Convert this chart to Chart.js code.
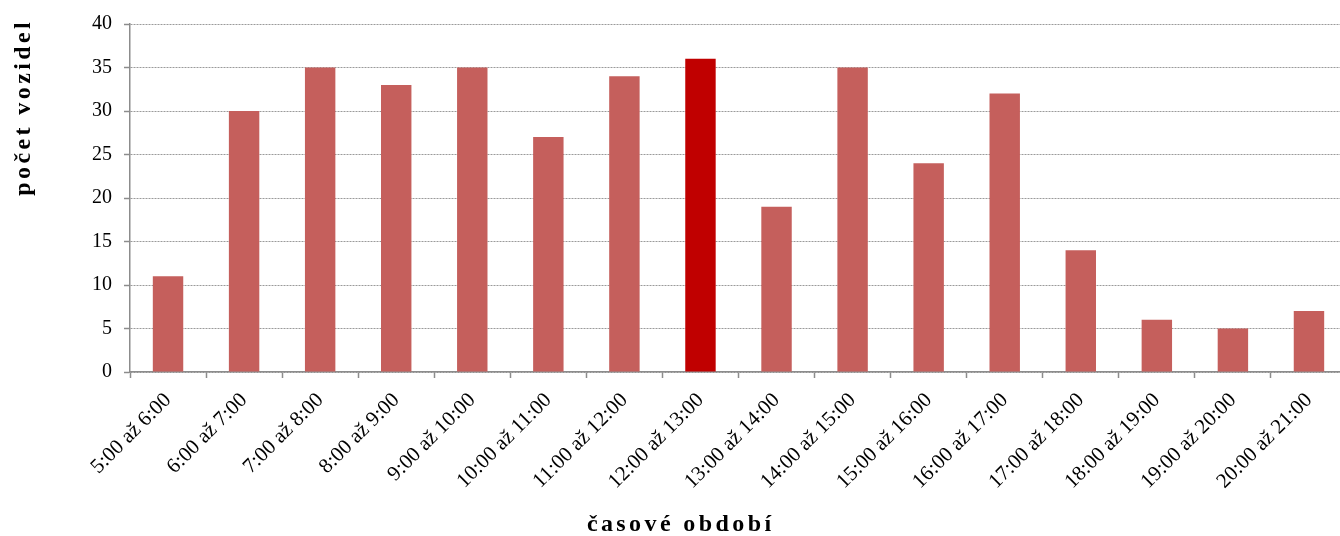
<!DOCTYPE html>
<html>
<head>
<meta charset="utf-8">
<script src="https://cdn.jsdelivr.net/npm/chart.js@4"></script>
<style>
  html, body { margin: 0; padding: 0; overflow: hidden; background: #fff; }
  #wrap { width: 1350px; height: 536px; }
</style>
</head>
<body>
<div id="wrap"><canvas id="barChart"></canvas></div>
<script>
// data
var casy = [
  "5:00 až 6:00", "6:00 až 7:00", "7:00 až 8:00", "8:00 až 9:00",
  "9:00 až 10:00", "10:00 až 11:00", "11:00 až 12:00", "12:00 až 13:00",
  "13:00 až 14:00", "14:00 až 15:00", "15:00 až 16:00", "16:00 až 17:00",
  "17:00 až 18:00", "18:00 až 19:00", "19:00 až 20:00", "20:00 až 21:00"
];
var pocty = [11, 30, 35, 33, 35, 27, 34, 36, 19, 35, 24, 32, 14, 6, 5, 7];
var spicka = 7; // highlighted hour (12:00 až 13:00)
var yTitle = "počet vozidel";
var xTitle = "časové období";

var barva = "#C55F5C";
var barvaSpicka = "#C00000";
var serif = "'Liberation Serif', 'Times New Roman', serif";

// spaced-out text, centred on 0, drawn letter by letter
function drawSpaced(c, text, spacing) {
  var chars = Array.from(text);
  var total = 0;
  chars.forEach(function (ch) { total += c.measureText(ch).width; });
  total += spacing * (chars.length - 1);
  var x = -total / 2;
  chars.forEach(function (ch) {
    c.fillText(ch, x, 0);
    x += c.measureText(ch).width + spacing;
  });
}

var axisTitles = {
  id: "axisTitles",
  afterDraw: function (chart) {
    var c = chart.ctx;
    c.save();
    c.fillStyle = "#000";
    c.font = "bold 24px " + serif;
    c.textAlign = "left";
    c.textBaseline = "alphabetic";
    c.save();
    c.translate(679, 531);
    drawSpaced(c, xTitle, 3.4);
    c.restore();
    c.translate(30, 109);
    c.rotate(-Math.PI / 2);
    drawSpaced(c, yTitle, 3.4);
    c.restore();
  }
};

var ctx = document.getElementById("barChart").getContext("2d");
var myChart = new Chart(ctx, {
  type: "bar",
  data: {
    labels: casy,
    datasets: [
      {
        label: yTitle,
        data: pocty,
        backgroundColor: pocty.map(function (v, i) { return i === spicka ? barvaSpicka : barva; }),
        barPercentage: 0.4,
        categoryPercentage: 1.0,
        borderWidth: 0
      }
    ]
  },
  options: {
    responsive: true,
    maintainAspectRatio: false,
    animation: false,
    layout: { padding: { top: 23, right: 3, left: 0, bottom: 0 } },
    plugins: {
      legend: { display: false },
      tooltip: { enabled: false }
    },
    scales: {
      x: {
        offset: true,
        afterFit: function (scale) { scale.height = 164; },
        grid: {
          offset: true,
          drawOnChartArea: false,
          tickLength: 6,
          tickColor: "#8c8c8c",
          tickWidth: 1.5
        },
        border: { color: "#8c8c8c", width: 1.5 },
        ticks: {
          color: "#000",
          font: { family: serif, size: 21 },
          minRotation: 45,
          maxRotation: 45,
          autoSkip: false,
          padding: 10
        }
      },
      y: {
        min: 0,
        max: 40,
        afterFit: function (scale) { scale.width = 130; },
        grid: {
          color: "#9a9a9a",
          lineWidth: 1,
          tickLength: 6,
          tickColor: "#8c8c8c",
          tickWidth: 1.5,
          tickBorderDash: []
        },
        border: { color: "#8c8c8c", width: 1.5, dash: [2, 1] },
        ticks: {
          stepSize: 5,
          color: "#000",
          font: { family: serif, size: 20 },
          padding: 12
        }
      }
    }
  },
  plugins: [axisTitles]
});
</script>
</body>
</html>
